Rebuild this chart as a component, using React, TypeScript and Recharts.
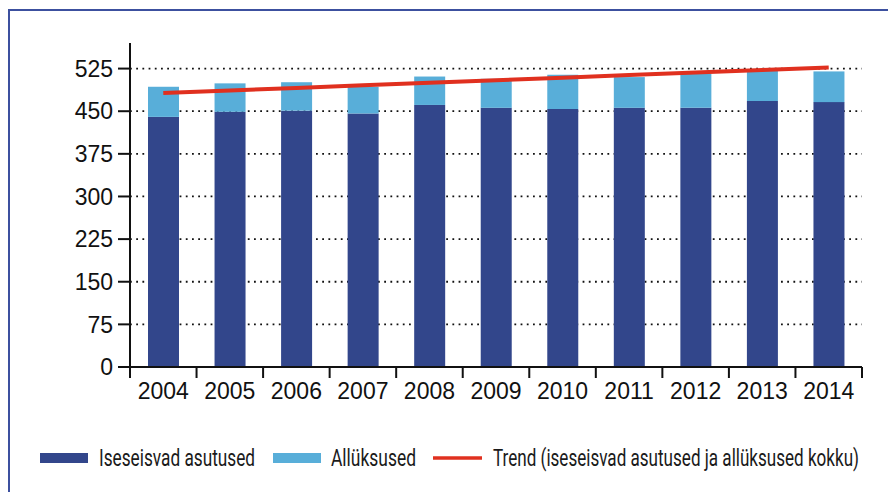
import { ComposedChart, Bar, Line, XAxis, YAxis, CartesianGrid } from "recharts";

const years = ["2004", "2005", "2006", "2007", "2008", "2009", "2010", "2011", "2012", "2013", "2014"];
const iseseisvad = [440, 449, 451, 446, 461, 456, 454, 456, 456, 468, 466];
const allyksused = [53, 50, 50, 47, 50, 51, 60, 54, 60, 56, 54];
const trend = [482, 486.5, 491, 495.5, 500, 504.5, 509, 513.5, 518, 522.5, 527];
const yTicks = [0, 75, 150, 225, 300, 375, 450, 525];

const data = years.map((y, i) => ({
  year: y,
  iseseisvad: iseseisvad[i],
  allyksused: allyksused[i],
  trend: trend[i],
}));

const DARK = "#32468b";
const LIGHT = "#58aed9";
const RED = "#e0301f";
const W = 888;
const H = 492;
const LEFT = 130;
const RIGHT = 26;
const BAND = (W - LEFT - RIGHT) / years.length;
const SX = 0.7; // legend font is a narrow one, squeeze it

function YearTick(props: any) {
  const { x, y, index, payload } = props;
  const xl = x - BAND / 2;
  const xr = x + BAND / 2;
  return (
    <g>
      <line x1={xl} y1={y} x2={xl} y2={y + 11} stroke="#111" strokeWidth={2} />
      {index === years.length - 1 && (
        <line x1={xr} y1={y} x2={xr} y2={y + 11} stroke="#111" strokeWidth={2} />
      )}
      <text x={x} y={y + 32} textAnchor="middle" fontSize={23} fill="#111"
        fontFamily="'Liberation Sans', Arial, sans-serif">
        {payload.value}
      </text>
    </g>
  );
}

function LegendText({ x, w, label }: { x: number; w: number; label: string }) {
  return (
    <g transform={`translate(${x},465.5) scale(${SX},1)`}>
      <text x={0} y={0} fontSize={24} fill="#1a1a1a" fontFamily="Roboto, 'Noto Sans', sans-serif"
        textLength={w / SX} lengthAdjust="spacingAndGlyphs">{label}</text>
    </g>
  );
}

function ChartLegend() {
  return (
    <svg width={W} height={H} style={{ position: "absolute", left: 0, top: 0, pointerEvents: "none" }}>
      <rect x={40} y={453} width={48} height={10} fill={DARK} />
      <LegendText x={99} w={156} label="Iseseisvad asutused" />
      <rect x={273} y={453} width={48} height={10} fill={LIGHT} />
      <LegendText x={331} w={85} label="Allüksused" />
      <line x1={433} y1={458} x2={482} y2={458} stroke={RED} strokeWidth={3.5} />
      <LegendText x={493} w={366} label="Trend (iseseisvad asutused ja allüksused kokku)" />
    </svg>
  );
}

export default function App() {
  return (
    <div style={{ position: "absolute", left: 0, top: 0, width: W, height: H, background: "#fff", overflow: "hidden" }}>
      <div style={{ position: "absolute", left: 8, top: 9, width: W, height: H, borderLeft: "2px solid #3c509f", borderTop: "2px solid #3c509f" }} />
      <ComposedChart width={W} height={H} data={data}
        margin={{ top: 43, right: RIGHT, left: 0, bottom: 85 }} style={{ position: "absolute", left: 0, top: 0 }}>
        <CartesianGrid vertical={false} stroke="#111" strokeWidth={1.8} strokeDasharray="1.8 4.4"
          horizontalValues={yTicks.filter((t) => t > 0)} />
        <XAxis dataKey="year" height={40} tickLine={false} tickSize={0} tickMargin={0}
          axisLine={{ stroke: "#111", strokeWidth: 2 }} tick={<YearTick />} interval={0} />
        <YAxis width={LEFT} domain={[0, 570]} ticks={yTicks} interval={0} tickSize={12} tickMargin={5}
          axisLine={{ stroke: "#111", strokeWidth: 2 }} tickLine={{ stroke: "#111", strokeWidth: 2 }}
          tick={{ fill: "#111", fontSize: 23, fontFamily: "'Liberation Sans', Arial, sans-serif" }} />
        <Bar dataKey="iseseisvad" stackId="a" fill={DARK} barSize={31} isAnimationActive={false} />
        <Bar dataKey="allyksused" stackId="a" fill={LIGHT} barSize={31} isAnimationActive={false} />
        <Line dataKey="trend" type="linear" stroke={RED} strokeWidth={4} dot={false} isAnimationActive={false} />
      </ComposedChart>
      <ChartLegend />
    </div>
  );
}
